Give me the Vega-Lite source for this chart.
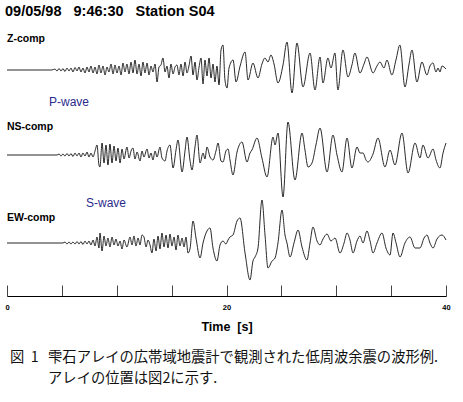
{
  "$schema": "https://vega.github.io/schema/vega-lite/v6.json",
  "width": 439,
  "height": 296,
  "autosize": "none",
  "padding": {"left": 7, "top": 0, "right": 17, "bottom": 106},
  "background": "white",
  "config": {
    "view": {"stroke": null},
    "font": "Liberation Sans",
    "axis": {
      "grid": false,
      "tickSize": -11,
      "tickColor": "#444",
      "tickWidth": 1,
      "domainColor": "#000",
      "domainWidth": 1.2,
      "labelFont": "Liberation Sans",
      "labelFontSize": 7.5,
      "labelFontWeight": "bold",
      "labelColor": "#000",
      "labelFlush": false,
      "labelPadding": 18,
      "titleFont": "Liberation Sans",
      "titleFontSize": 12.5,
      "titleFontWeight": "bold",
      "titleColor": "#000",
      "titlePadding": 10
    }
  },
  "datasets": {
    "z": [
      {"t":0,"v":0},{"t":3.92,"v":0},{"t":4.10,"v":0},{"t":4.37,"v":1},{"t":4.56,"v":-1},{"t":4.74,"v":1.5},{"t":4.92,"v":-1},{"t":5.10,"v":1.5},{"t":5.28,"v":-1.5},{"t":5.47,"v":2},{"t":5.65,"v":-1},{"t":5.83,"v":2},{"t":6.01,"v":-2},{"t":6.20,"v":2.5},{"t":6.38,"v":-1},{"t":6.56,"v":3},{"t":6.74,"v":-2},{"t":6.92,"v":2},{"t":7.11,"v":-3},{"t":7.29,"v":3},{"t":7.47,"v":-2},{"t":7.65,"v":4},{"t":7.84,"v":-3},{"t":8.02,"v":3},{"t":8.20,"v":-4},{"t":8.38,"v":5},{"t":8.56,"v":-3},{"t":8.75,"v":4},{"t":8.93,"v":-5},{"t":9.11,"v":3},{"t":9.29,"v":-2},{"t":9.48,"v":6},{"t":9.66,"v":-4},{"t":9.84,"v":5},{"t":10.02,"v":-3},{"t":10.21,"v":4},{"t":10.39,"v":-5},{"t":10.57,"v":7},{"t":10.75,"v":-2},{"t":10.93,"v":6},{"t":11.12,"v":-4},{"t":11.30,"v":8},{"t":11.48,"v":-3},{"t":11.66,"v":10},{"t":11.85,"v":-4},{"t":12.03,"v":6},{"t":12.21,"v":-6},{"t":12.39,"v":8},{"t":12.57,"v":-3},{"t":12.76,"v":7},{"t":12.94,"v":-5},{"t":13.12,"v":4},{"t":13.30,"v":-2},{"t":13.49,"v":6},{"t":13.67,"v":-12},{"t":13.85,"v":3},{"t":14.03,"v":5},{"t":14.21,"v":12},{"t":14.40,"v":-2},{"t":14.58,"v":4},{"t":14.76,"v":-8},{"t":14.94,"v":6},{"t":15.13,"v":-4},{"t":15.31,"v":3},{"t":15.49,"v":5},{"t":15.67,"v":-5},{"t":15.85,"v":6},{"t":16.04,"v":-6},{"t":16.22,"v":8},{"t":16.40,"v":-3},{"t":16.58,"v":4},{"t":16.77,"v":14},{"t":16.95,"v":-5},{"t":17.13,"v":8},{"t":17.31,"v":-10},{"t":17.50,"v":3},{"t":17.68,"v":12},{"t":17.86,"v":-14},{"t":18.04,"v":10},{"t":18.22,"v":-6},{"t":18.41,"v":12},{"t":18.59,"v":-8},{"t":18.77,"v":6},{"t":18.95,"v":-12},{"t":19.13,"v":4},{"t":19.32,"v":-15},{"t":19.50,"v":20},{"t":19.68,"v":25},{"t":19.86,"v":-10},{"t":20.05,"v":-18},{"t":20.23,"v":2},{"t":20.60,"v":10},{"t":20.87,"v":-12},{"t":21.24,"v":4},{"t":21.69,"v":18},{"t":21.96,"v":-10},{"t":22.41,"v":7},{"t":22.87,"v":-8},{"t":23.23,"v":6},{"t":23.50,"v":12},{"t":23.78,"v":8},{"t":24.05,"v":15},{"t":24.33,"v":6},{"t":24.69,"v":-13},{"t":25.15,"v":5},{"t":25.51,"v":28},{"t":25.97,"v":-23},{"t":26.42,"v":27},{"t":26.97,"v":-17},{"t":27.61,"v":17},{"t":28.06,"v":-20},{"t":28.52,"v":13},{"t":28.79,"v":-13},{"t":29.24,"v":12},{"t":29.52,"v":2},{"t":29.88,"v":17},{"t":30.15,"v":-20},{"t":30.61,"v":20},{"t":31.07,"v":-7},{"t":31.43,"v":5},{"t":31.70,"v":17},{"t":32.16,"v":-3},{"t":32.53,"v":6},{"t":32.80,"v":13},{"t":33.35,"v":-3},{"t":33.71,"v":4},{"t":33.98,"v":8},{"t":34.35,"v":2},{"t":34.62,"v":10},{"t":35.07,"v":-5},{"t":35.44,"v":10},{"t":35.80,"v":25},{"t":36.26,"v":-17},{"t":36.62,"v":5},{"t":36.90,"v":20},{"t":37.35,"v":-12},{"t":37.81,"v":8},{"t":38.26,"v":-5},{"t":38.54,"v":4},{"t":38.81,"v":7},{"t":39.09,"v":-2},{"t":39.27,"v":2},{"t":39.45,"v":-2},{"t":39.63,"v":4},{"t":40,"v":1}
    ],
    "ns": [
      {"t":0,"v":0},{"t":4.56,"v":0},{"t":4.74,"v":1},{"t":4.92,"v":-1},{"t":5.10,"v":1},{"t":5.28,"v":-1},{"t":5.47,"v":1.5},{"t":5.65,"v":-1},{"t":5.83,"v":1.5},{"t":6.01,"v":-1.5},{"t":6.20,"v":2},{"t":6.38,"v":-1},{"t":6.56,"v":2},{"t":6.74,"v":-2},{"t":6.92,"v":2},{"t":7.11,"v":-1},{"t":7.29,"v":3},{"t":7.47,"v":-2},{"t":7.65,"v":2},{"t":7.84,"v":-2},{"t":8.02,"v":4},{"t":8.20,"v":10},{"t":8.38,"v":-10},{"t":8.47,"v":-12},{"t":8.66,"v":12},{"t":8.84,"v":-8},{"t":9.02,"v":10},{"t":9.20,"v":-10},{"t":9.38,"v":11},{"t":9.57,"v":-8},{"t":9.75,"v":9},{"t":9.93,"v":-6},{"t":10.11,"v":7},{"t":10.30,"v":-8},{"t":10.48,"v":6},{"t":10.66,"v":-4},{"t":10.93,"v":8},{"t":11.12,"v":-3},{"t":11.30,"v":4},{"t":11.48,"v":7},{"t":11.66,"v":-4},{"t":11.85,"v":3},{"t":12.12,"v":-6},{"t":12.30,"v":4},{"t":12.48,"v":-2},{"t":12.76,"v":6},{"t":12.94,"v":-3},{"t":13.12,"v":2},{"t":13.30,"v":-5},{"t":13.49,"v":4},{"t":13.67,"v":-2},{"t":13.94,"v":8},{"t":14.12,"v":-3},{"t":14.40,"v":-6},{"t":14.58,"v":4},{"t":14.85,"v":10},{"t":15.13,"v":-13},{"t":15.40,"v":5},{"t":15.58,"v":15},{"t":15.95,"v":-17},{"t":16.22,"v":4},{"t":16.40,"v":18},{"t":16.67,"v":-5},{"t":16.86,"v":-15},{"t":17.13,"v":8},{"t":17.31,"v":20},{"t":17.59,"v":-8},{"t":17.86,"v":2},{"t":18.04,"v":-4},{"t":18.22,"v":8},{"t":18.50,"v":-2},{"t":18.77,"v":-5},{"t":19.04,"v":4},{"t":19.23,"v":12},{"t":19.50,"v":-6},{"t":19.68,"v":-7},{"t":19.95,"v":4},{"t":20.14,"v":6},{"t":20.32,"v":-5},{"t":20.59,"v":-20},{"t":20.96,"v":3},{"t":21.41,"v":13},{"t":21.87,"v":-7},{"t":22.14,"v":2},{"t":22.32,"v":5},{"t":22.78,"v":17},{"t":23.23,"v":-3},{"t":23.69,"v":-22},{"t":24.24,"v":18},{"t":24.42,"v":10},{"t":24.69,"v":22},{"t":25.15,"v":-42},{"t":25.60,"v":33},{"t":26.24,"v":-25},{"t":26.88,"v":22},{"t":27.15,"v":5},{"t":27.43,"v":-12},{"t":27.79,"v":-8},{"t":28.15,"v":10},{"t":28.52,"v":27},{"t":29.16,"v":-17},{"t":29.70,"v":20},{"t":30.07,"v":0},{"t":30.52,"v":-17},{"t":30.98,"v":17},{"t":31.43,"v":-13},{"t":31.89,"v":8},{"t":32.16,"v":2},{"t":32.44,"v":2},{"t":32.71,"v":-5},{"t":32.89,"v":-7},{"t":33.35,"v":1},{"t":33.80,"v":17},{"t":34.44,"v":-12},{"t":34.90,"v":5},{"t":35.35,"v":-10},{"t":35.99,"v":22},{"t":36.54,"v":-18},{"t":37.18,"v":12},{"t":37.63,"v":-3},{"t":37.90,"v":10},{"t":38.36,"v":-3},{"t":38.82,"v":6},{"t":39.09,"v":-5},{"t":39.45,"v":-13},{"t":39.73,"v":2},{"t":40,"v":12}
    ],
    "ew": [
      {"t":0,"v":0},{"t":5.10,"v":0},{"t":5.28,"v":1},{"t":5.47,"v":-1},{"t":5.65,"v":1},{"t":5.83,"v":-1},{"t":6.01,"v":1},{"t":6.20,"v":-1},{"t":6.38,"v":1.5},{"t":6.56,"v":-1},{"t":6.74,"v":1.5},{"t":6.92,"v":-1.5},{"t":7.11,"v":2},{"t":7.29,"v":-1},{"t":7.47,"v":2},{"t":7.65,"v":-2},{"t":7.84,"v":3},{"t":8.02,"v":-3},{"t":8.20,"v":6},{"t":8.38,"v":-5},{"t":8.47,"v":10},{"t":8.66,"v":-8},{"t":8.84,"v":7},{"t":9.02,"v":-3},{"t":9.20,"v":5},{"t":9.38,"v":-4},{"t":9.57,"v":6},{"t":9.75,"v":-2},{"t":9.93,"v":4},{"t":10.11,"v":-3},{"t":10.30,"v":2},{"t":10.48,"v":-6},{"t":10.66,"v":3},{"t":10.93,"v":-4},{"t":11.21,"v":6},{"t":11.39,"v":-2},{"t":11.57,"v":7},{"t":11.75,"v":-3},{"t":11.94,"v":5},{"t":12.12,"v":-2},{"t":12.30,"v":8},{"t":12.48,"v":6},{"t":12.67,"v":-4},{"t":12.85,"v":3},{"t":13.03,"v":-2},{"t":13.21,"v":-10},{"t":13.39,"v":4},{"t":13.58,"v":-8},{"t":13.76,"v":7},{"t":13.94,"v":-6},{"t":14.12,"v":10},{"t":14.31,"v":-4},{"t":14.49,"v":8},{"t":14.67,"v":-5},{"t":14.85,"v":9},{"t":15.03,"v":-3},{"t":15.22,"v":6},{"t":15.40,"v":-7},{"t":15.58,"v":8},{"t":15.76,"v":-3},{"t":15.95,"v":5},{"t":16.13,"v":-4},{"t":16.31,"v":6},{"t":16.49,"v":-10},{"t":16.67,"v":-6},{"t":16.95,"v":22},{"t":17.22,"v":5},{"t":17.59,"v":-15},{"t":17.86,"v":0},{"t":18.22,"v":12},{"t":18.50,"v":15},{"t":18.77,"v":-5},{"t":19.13,"v":-18},{"t":19.41,"v":-2},{"t":19.68,"v":2},{"t":19.95,"v":-1},{"t":20.14,"v":3},{"t":20.32,"v":6},{"t":20.59,"v":8},{"t":20.96,"v":22},{"t":21.23,"v":25},{"t":21.69,"v":-10},{"t":22.14,"v":-37},{"t":22.41,"v":-18},{"t":22.60,"v":-14},{"t":22.87,"v":-5},{"t":23.23,"v":43},{"t":23.51,"v":8},{"t":23.78,"v":-25},{"t":24.15,"v":-18},{"t":24.42,"v":-15},{"t":24.69,"v":0},{"t":25.06,"v":33},{"t":25.33,"v":8},{"t":25.51,"v":0},{"t":25.79,"v":-14},{"t":26.15,"v":0},{"t":26.52,"v":13},{"t":26.88,"v":-4},{"t":27.33,"v":-17},{"t":27.61,"v":0},{"t":27.88,"v":16},{"t":28.25,"v":2},{"t":28.52,"v":-2},{"t":28.79,"v":4},{"t":29.16,"v":9},{"t":29.52,"v":2},{"t":29.89,"v":5},{"t":30.34,"v":-10},{"t":30.71,"v":0},{"t":30.98,"v":10},{"t":31.25,"v":3},{"t":31.53,"v":-10},{"t":31.89,"v":2},{"t":32.16,"v":7},{"t":32.44,"v":0},{"t":32.80,"v":12},{"t":33.08,"v":2},{"t":33.35,"v":-10},{"t":33.71,"v":0},{"t":34.17,"v":10},{"t":34.53,"v":-5},{"t":34.90,"v":-12},{"t":35.17,"v":10},{"t":35.45,"v":0},{"t":35.81,"v":-14},{"t":36.26,"v":0},{"t":36.72,"v":6},{"t":37.18,"v":-5},{"t":37.63,"v":-5},{"t":38.00,"v":5},{"t":38.27,"v":8},{"t":38.54,"v":0},{"t":38.82,"v":-5},{"t":39.18,"v":4},{"t":39.64,"v":8},{"t":40,"v":3}
    ],
    "head": [{"label":"09/05/98\u00a0\u00a0\u00a09:46:30\u00a0\u00a0\u00a0Station S04","t":0,"v":54}],
    "comps": [
      {"label":"Z-comp","t":0,"v":28},
      {"label":"NS-comp","t":0,"v":-60},
      {"label":"EW-comp","t":0,"v":-151}
    ],
    "waves": [
      {"label":"P-wave","t":3.83,"v":-36},
      {"label":"S-wave","t":7.20,"v":-137}
    ],
    "caption": [
      {"label":"図\u00a0\u00a01","t":0.27,"v":-292},
      {"label":"雫石アレイの広帯域地震計で観測された低周波余震の波形例.\nアレイの位置は図2に示す.","t":3.74,"v":-292}
    ]
  },
  "layer": [
    {
      "layer": [
        {
          "data": {"name": "z"},
          "mark": {"type": "line", "color": "#111", "strokeWidth": 0.9, "interpolate": "monotone"},
          "encoding": {
            "x": {"field":"t","type":"quantitative","scale":{"domain":[0,40],"nice":false,"zero":false},"axis":{"values":[0,5,10,15,20,25,30,35,40],"labelExpr":"datum.value % 20 === 0 ? datum.label : ''","title":"Time\u00a0\u00a0[s]"}},
            "y": {"field":"v","type":"quantitative","scale":{"domain":[-226,70],"nice":false,"zero":false},"axis":null}
          }
        },
        {
          "data": {"name": "head"},
          "mark": {"type":"text","align":"left","baseline":"alphabetic","font":"Liberation Sans","fontSize":14.5,"fontWeight":"bold","color":"#000","dx":-2},
          "encoding": {
            "x": {"field":"t","type":"quantitative","scale":{"domain":[0,40],"nice":false,"zero":false},"axis":{"values":[0,5,10,15,20,25,30,35,40],"labelExpr":"datum.value % 20 === 0 ? datum.label : ''","title":"Time\u00a0\u00a0[s]"}},
            "y": {"field":"v","type":"quantitative","scale":{"domain":[-226,70],"nice":false,"zero":false},"axis":null},
            "text": {"field":"label"}
          }
        },
        {
          "data": {"name": "comps"},
          "mark": {"type":"text","align":"left","baseline":"alphabetic","font":"Liberation Sans","fontSize":10.5,"fontWeight":"bold","color":"#000"},
          "encoding": {
            "x": {"field":"t","type":"quantitative","scale":{"domain":[0,40],"nice":false,"zero":false},"axis":{"values":[0,5,10,15,20,25,30,35,40],"labelExpr":"datum.value % 20 === 0 ? datum.label : ''","title":"Time\u00a0\u00a0[s]"}},
            "y": {"field":"v","type":"quantitative","scale":{"domain":[-226,70],"nice":false,"zero":false},"axis":null},
            "text": {"field":"label"}
          }
        },
        {
          "data": {"name": "waves"},
          "mark": {"type":"text","align":"left","baseline":"alphabetic","font":"Liberation Sans","fontSize":12,"color":"#2b2b8c"},
          "encoding": {
            "x": {"field":"t","type":"quantitative","scale":{"domain":[0,40],"nice":false,"zero":false},"axis":{"values":[0,5,10,15,20,25,30,35,40],"labelExpr":"datum.value % 20 === 0 ? datum.label : ''","title":"Time\u00a0\u00a0[s]"}},
            "y": {"field":"v","type":"quantitative","scale":{"domain":[-226,70],"nice":false,"zero":false},"axis":null},
            "text": {"field":"label"}
          }
        },
        {
          "data": {"name": "caption"},
          "mark": {"type":"text","align":"left","baseline":"alphabetic","font":"Noto Sans CJK JP","fontSize":14.3,"color":"#111","lineBreak":"\n","lineHeight":21},
          "encoding": {
            "x": {"field":"t","type":"quantitative","scale":{"domain":[0,40],"nice":false,"zero":false},"axis":{"values":[0,5,10,15,20,25,30,35,40],"labelExpr":"datum.value % 20 === 0 ? datum.label : ''","title":"Time\u00a0\u00a0[s]"}},
            "y": {"field":"v","type":"quantitative","scale":{"domain":[-226,70],"nice":false,"zero":false},"axis":null},
            "text": {"field":"label"}
          }
        }
      ]
    },
    {
      "data": {"name": "ns"},
      "mark": {"type": "line", "color": "#111", "strokeWidth": 0.9, "interpolate": "monotone"},
      "encoding": {
        "x": {"field":"t","type":"quantitative","scale":{"domain":[0,40],"nice":false,"zero":false},"axis":{"values":[0,5,10,15,20,25,30,35,40],"labelExpr":"datum.value % 20 === 0 ? datum.label : ''","title":"Time\u00a0\u00a0[s]"}},
        "y": {"field":"v","type":"quantitative","scale":{"domain":[-141,155],"nice":false,"zero":false},"axis":null}
      }
    },
    {
      "data": {"name": "ew"},
      "mark": {"type": "line", "color": "#111", "strokeWidth": 0.9, "interpolate": "monotone"},
      "encoding": {
        "x": {"field":"t","type":"quantitative","scale":{"domain":[0,40],"nice":false,"zero":false},"axis":{"values":[0,5,10,15,20,25,30,35,40],"labelExpr":"datum.value % 20 === 0 ? datum.label : ''","title":"Time\u00a0\u00a0[s]"}},
        "y": {"field":"v","type":"quantitative","scale":{"domain":[-53,243],"nice":false,"zero":false},"axis":null}
      }
    }
  ],
  "resolve": {"scale": {"y": "independent"}}
}
